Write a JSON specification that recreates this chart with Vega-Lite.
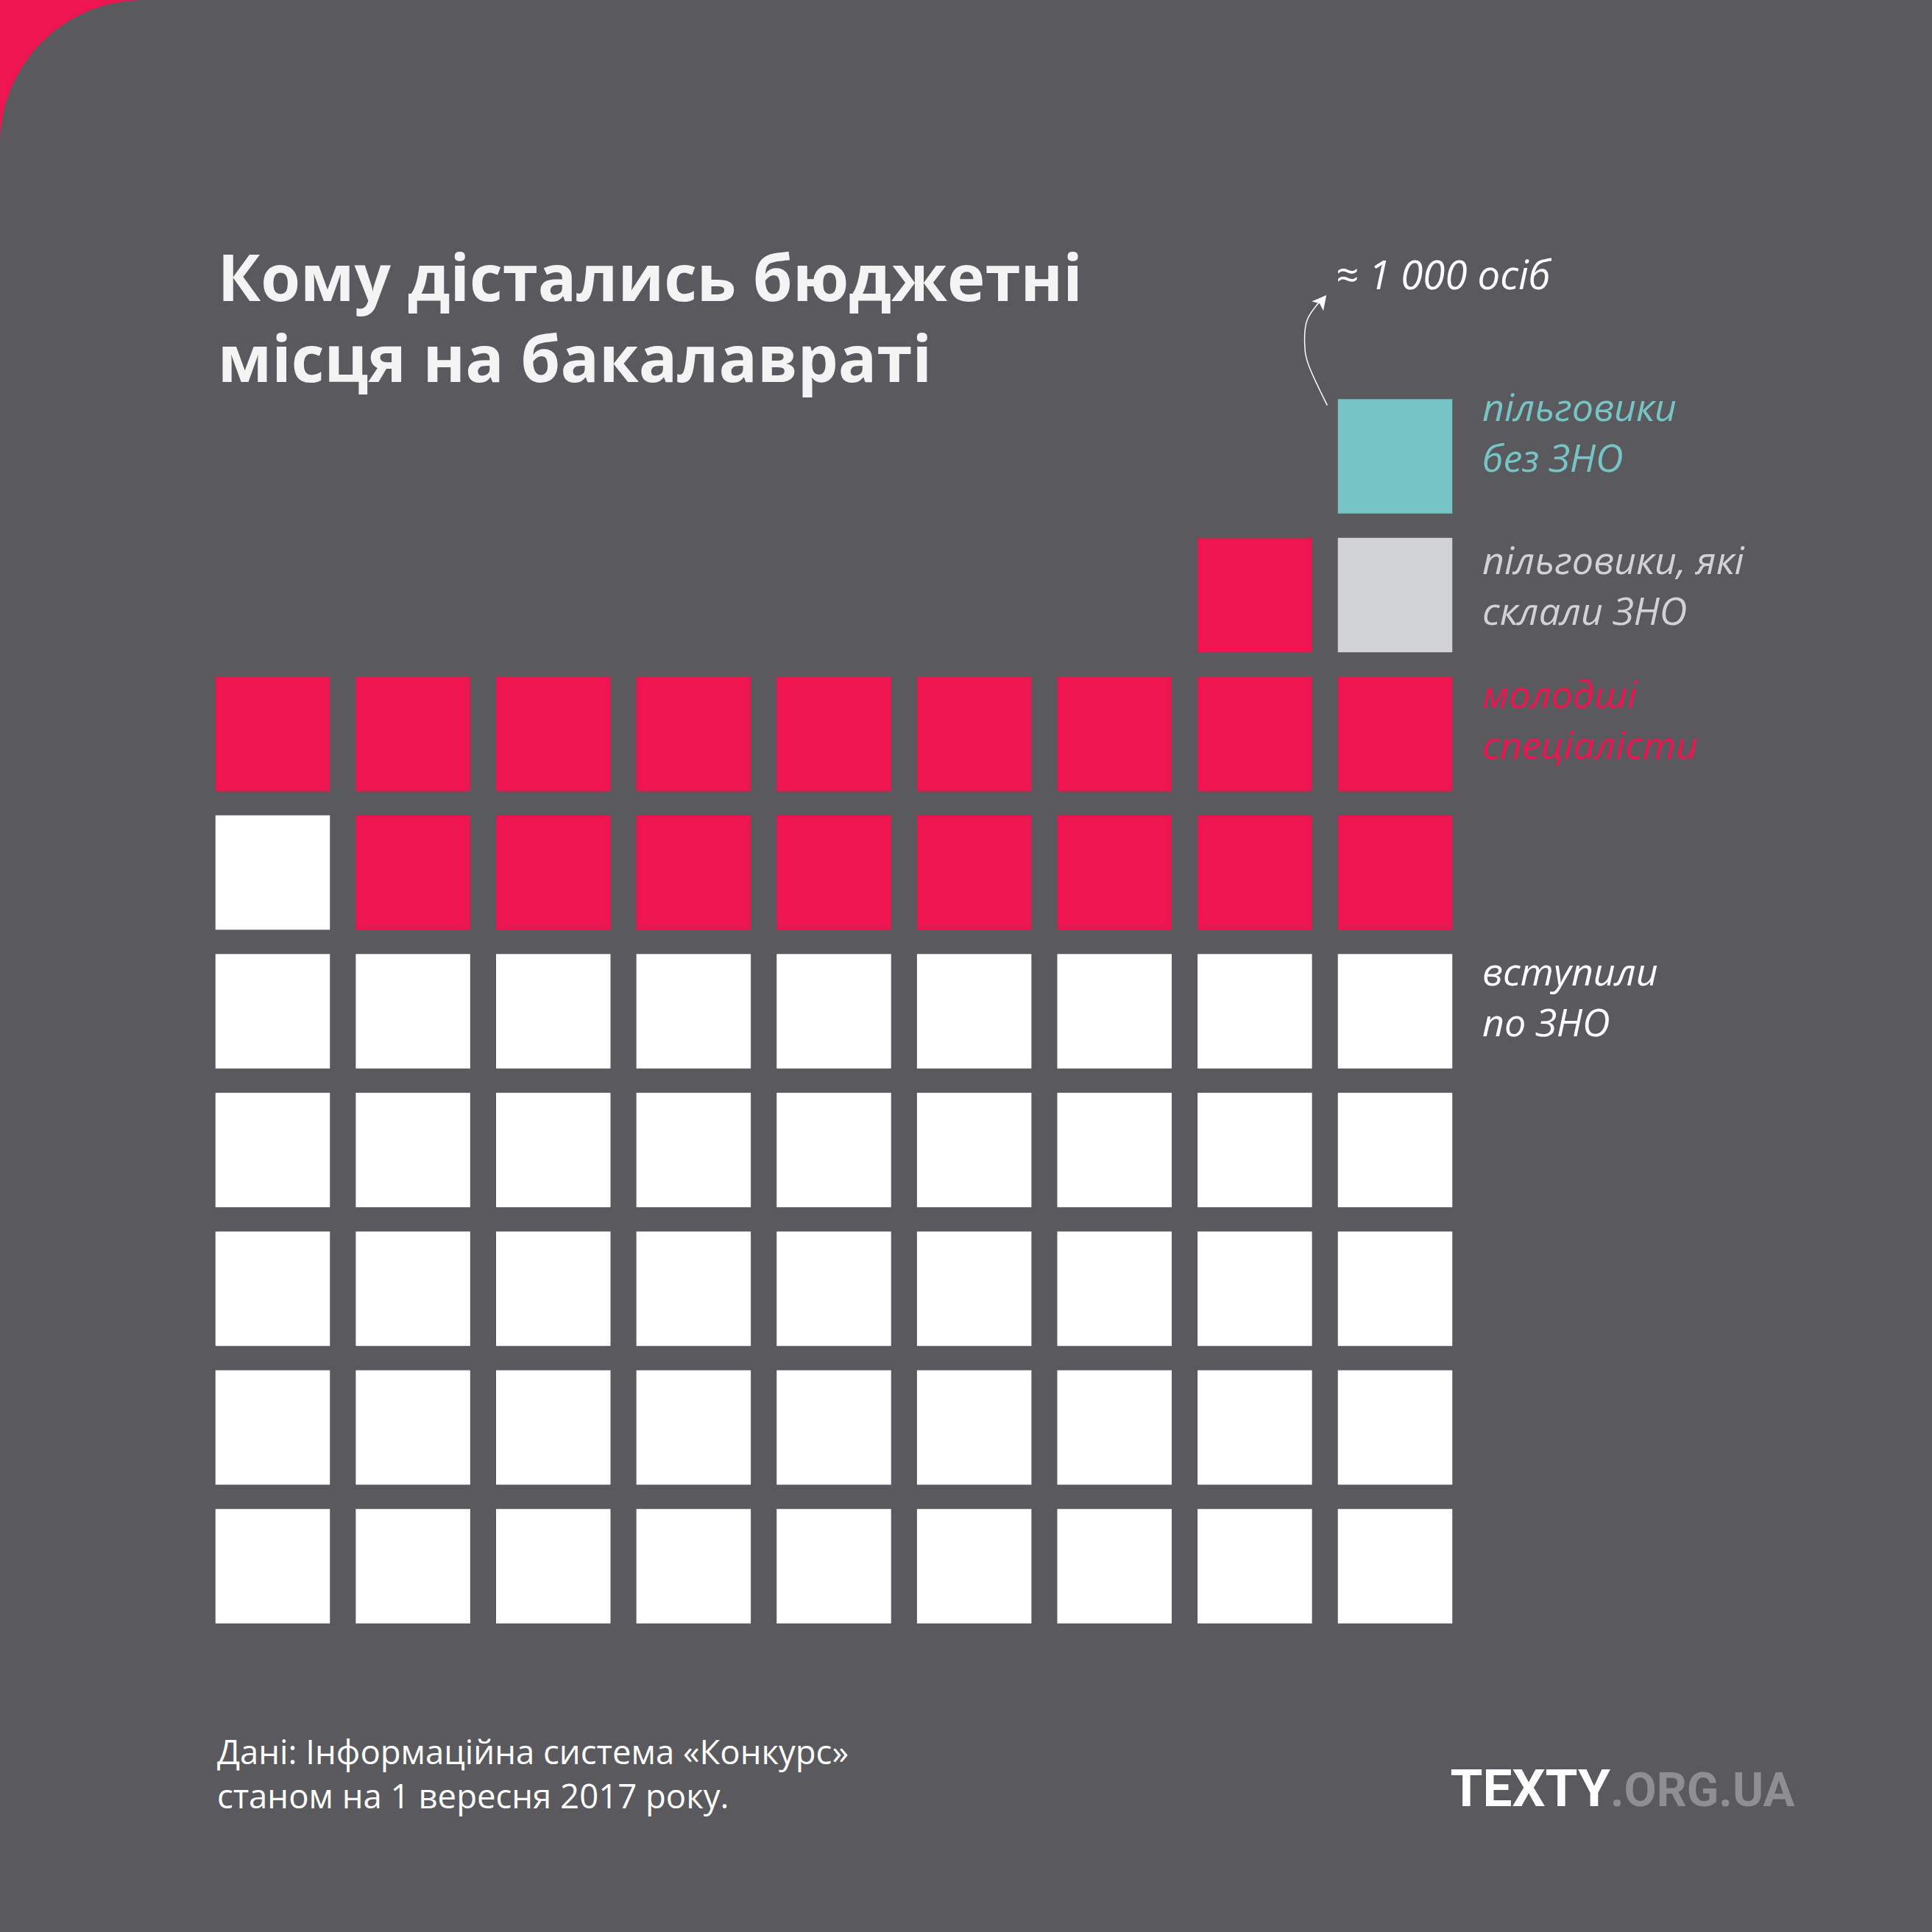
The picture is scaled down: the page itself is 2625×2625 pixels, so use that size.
{
  "$schema": "https://vega.github.io/schema/vega-lite/v6.json",
  "width": 2625,
  "height": 2625,
  "autosize": "none",
  "padding": 0,
  "background": "#5A595E",
  "config": {"view": {"stroke": null}},
  "datasets": {
    "cells": [
      {"col": 1, "row": 1, "g": "zno"}, {"col": 2, "row": 1, "g": "zno"}, {"col": 3, "row": 1, "g": "zno"}, {"col": 4, "row": 1, "g": "zno"}, {"col": 5, "row": 1, "g": "zno"}, {"col": 6, "row": 1, "g": "zno"}, {"col": 7, "row": 1, "g": "zno"}, {"col": 8, "row": 1, "g": "zno"}, {"col": 9, "row": 1, "g": "zno"},
      {"col": 1, "row": 2, "g": "zno"}, {"col": 2, "row": 2, "g": "zno"}, {"col": 3, "row": 2, "g": "zno"}, {"col": 4, "row": 2, "g": "zno"}, {"col": 5, "row": 2, "g": "zno"}, {"col": 6, "row": 2, "g": "zno"}, {"col": 7, "row": 2, "g": "zno"}, {"col": 8, "row": 2, "g": "zno"}, {"col": 9, "row": 2, "g": "zno"},
      {"col": 1, "row": 3, "g": "zno"}, {"col": 2, "row": 3, "g": "zno"}, {"col": 3, "row": 3, "g": "zno"}, {"col": 4, "row": 3, "g": "zno"}, {"col": 5, "row": 3, "g": "zno"}, {"col": 6, "row": 3, "g": "zno"}, {"col": 7, "row": 3, "g": "zno"}, {"col": 8, "row": 3, "g": "zno"}, {"col": 9, "row": 3, "g": "zno"},
      {"col": 1, "row": 4, "g": "zno"}, {"col": 2, "row": 4, "g": "zno"}, {"col": 3, "row": 4, "g": "zno"}, {"col": 4, "row": 4, "g": "zno"}, {"col": 5, "row": 4, "g": "zno"}, {"col": 6, "row": 4, "g": "zno"}, {"col": 7, "row": 4, "g": "zno"}, {"col": 8, "row": 4, "g": "zno"}, {"col": 9, "row": 4, "g": "zno"},
      {"col": 1, "row": 5, "g": "zno"}, {"col": 2, "row": 5, "g": "zno"}, {"col": 3, "row": 5, "g": "zno"}, {"col": 4, "row": 5, "g": "zno"}, {"col": 5, "row": 5, "g": "zno"}, {"col": 6, "row": 5, "g": "zno"}, {"col": 7, "row": 5, "g": "zno"}, {"col": 8, "row": 5, "g": "zno"}, {"col": 9, "row": 5, "g": "zno"},
      {"col": 1, "row": 6, "g": "zno"}, {"col": 2, "row": 6, "g": "junior"}, {"col": 3, "row": 6, "g": "junior"}, {"col": 4, "row": 6, "g": "junior"}, {"col": 5, "row": 6, "g": "junior"}, {"col": 6, "row": 6, "g": "junior"}, {"col": 7, "row": 6, "g": "junior"}, {"col": 8, "row": 6, "g": "junior"}, {"col": 9, "row": 6, "g": "junior"},
      {"col": 1, "row": 7, "g": "junior"}, {"col": 2, "row": 7, "g": "junior"}, {"col": 3, "row": 7, "g": "junior"}, {"col": 4, "row": 7, "g": "junior"}, {"col": 5, "row": 7, "g": "junior"}, {"col": 6, "row": 7, "g": "junior"}, {"col": 7, "row": 7, "g": "junior"}, {"col": 8, "row": 7, "g": "junior"}, {"col": 9, "row": 7, "g": "junior"},
      {"col": 8, "row": 8, "g": "junior"}, {"col": 9, "row": 8, "g": "benefit_zno"},
      {"col": 9, "row": 9, "g": "benefit_nozno"}
    ],
    "labels": [
      {"x": 9.6223, "y": 9.2546, "g": "benefit_nozno", "label": ["пільговики", "без ЗНО"]},
      {"x": 9.6223, "y": 8.1512, "g": "benefit_zno", "label": ["пільговики, які", "склали ЗНО"]},
      {"x": 9.6223, "y": 7.1857, "g": "junior", "label": ["молодші", "спеціалісти"]},
      {"x": 9.6223, "y": 5.1857, "g": "zno", "label": ["вступили", "по ЗНО"]}
    ],
    "arrow": [
      {"i": 1, "x": 8.5163, "y": 9.3676},
      {"i": 2, "x": 8.3851, "y": 9.6541},
      {"i": 3, "x": 8.3557, "y": 9.8133},
      {"i": 4, "x": 8.3730, "y": 9.9814},
      {"i": 5, "x": 8.4622, "y": 10.1141}
    ]
  },
  "layer": [
    {
      "data": {"values": [{"x0": -1.0, "x1": 0.0794, "y0": 12.35, "y1": 11.2546}]},
      "mark": {"type": "rect", "fill": "#ED1650", "strokeWidth": 0},
      "encoding": {
        "x": {"field": "x0", "type": "quantitative", "scale": {"domain": [-0.94361, 12.8269], "nice": false, "zero": false}, "axis": null},
        "x2": {"field": "x1"},
        "y": {"field": "y0", "type": "quantitative", "scale": {"domain": [-1.6366, 12.2891], "nice": false, "zero": false}, "axis": null},
        "y2": {"field": "y1"}
      }
    },
    {
      "data": {"values": [{"x": 0.0794, "y": 11.2546}]},
      "mark": {"type": "circle", "size": 152100, "fill": "#5A595E", "opacity": 1, "strokeWidth": 0},
      "encoding": {
        "x": {"field": "x", "type": "quantitative"},
        "y": {"field": "y", "type": "quantitative"}
      }
    },
    {
      "data": {"name": "cells"},
      "mark": {"type": "square", "size": 24180, "opacity": 1, "strokeWidth": 0},
      "encoding": {
        "x": {"field": "col", "type": "quantitative"},
        "y": {"field": "row", "type": "quantitative"},
        "color": {"field": "g", "type": "nominal", "legend": null,
          "scale": {"domain": ["zno", "junior", "benefit_zno", "benefit_nozno"], "range": ["#FFFFFF", "#ED1650", "#D1D2D4", "#76C4C4"]}}
      }
    },
    {
      "data": {"name": "arrow"},
      "mark": {"type": "line", "interpolate": "cardinal", "stroke": "#FFFFFF", "strokeWidth": 1.5},
      "encoding": {
        "x": {"field": "x", "type": "quantitative"},
        "y": {"field": "y", "type": "quantitative"},
        "order": {"field": "i", "type": "quantitative"}
      }
    },
    {
      "data": {"values": [{"x": 8.4775, "y": 10.1199}]},
      "mark": {"type": "point", "shape": "M0,-1L1,0.9L0,0.45L-1,0.9Z", "size": 400, "angle": 39, "filled": true, "fill": "#FFFFFF", "opacity": 1, "strokeWidth": 0},
      "encoding": {
        "x": {"field": "x", "type": "quantitative"},
        "y": {"field": "y", "type": "quantitative"}
      }
    },
    {
      "data": {"values": [{"x": 8.5777, "y": 10.2042, "t": "≈ 1 000 осіб"}]},
      "mark": {"type": "text", "align": "left", "baseline": "alphabetic", "font": "Open Sans", "fontStyle": "italic", "fontSize": 54.5, "fill": "#FFFFFF"},
      "encoding": {
        "x": {"field": "x", "type": "quantitative"},
        "y": {"field": "y", "type": "quantitative"},
        "text": {"field": "t"}
      }
    },
    {
      "data": {"name": "labels"},
      "mark": {"type": "text", "align": "left", "baseline": "alphabetic", "font": "Open Sans", "fontStyle": "italic", "fontSize": 52, "lineHeight": 69},
      "encoding": {
        "x": {"field": "x", "type": "quantitative"},
        "y": {"field": "y", "type": "quantitative"},
        "text": {"field": "label"},
        "color": {"field": "g", "type": "nominal", "legend": null}
      }
    },
    {
      "data": {"values": [{"x": 0.6080, "y": 10.1194, "t": ["Кому дістались бюджетні", "місця на бакалавраті"]}]},
      "mark": {"type": "text", "align": "left", "baseline": "alphabetic", "font": "Open Sans", "fontWeight": "bold", "fontSize": 87, "lineHeight": 110, "fill": "#F4F4F4"},
      "encoding": {
        "x": {"field": "x", "type": "quantitative"},
        "y": {"field": "y", "type": "quantitative"},
        "text": {"field": "t"}
      }
    },
    {
      "data": {"values": [{"x": 0.6033, "y": -0.4271, "t": ["Дані: Інформаційна система «Конкурс»", "станом на 1 вересня 2017 року."]}]},
      "mark": {"type": "text", "align": "left", "baseline": "alphabetic", "font": "Open Sans", "fontSize": 45.5, "lineHeight": 60, "fill": "#FFFFFF"},
      "encoding": {
        "x": {"field": "x", "type": "quantitative"},
        "y": {"field": "y", "type": "quantitative"},
        "text": {"field": "t"}
      }
    },
    {
      "data": {"values": [{"x": 10.5345, "y": -0.7294, "t": "TEXTY"}]},
      "mark": {"type": "text", "align": "right", "baseline": "alphabetic", "font": "Roboto", "fontWeight": "bold", "fontSize": 71, "fill": "#FFFFFF"},
      "encoding": {
        "x": {"field": "x", "type": "quantitative"},
        "y": {"field": "y", "type": "quantitative"},
        "text": {"field": "t"}
      }
    },
    {
      "data": {"values": [{"x": 10.5345, "y": -0.7294, "t": ".ORG.UA"}]},
      "mark": {"type": "text", "align": "left", "baseline": "alphabetic", "font": "Roboto", "fontWeight": "bold", "fontSize": 64, "fill": "#8F8F93"},
      "encoding": {
        "x": {"field": "x", "type": "quantitative"},
        "y": {"field": "y", "type": "quantitative"},
        "text": {"field": "t"}
      }
    }
  ]
}
